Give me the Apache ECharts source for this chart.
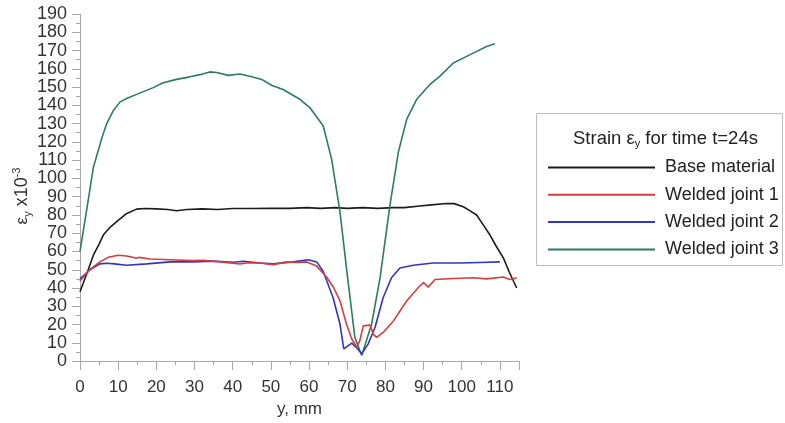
<!DOCTYPE html>
<html><head><meta charset="utf-8">
<script src="https://cdn.jsdelivr.net/npm/echarts@6/dist/echarts.min.js"></script>
<style>html,body{margin:0;padding:0;background:#fff}#c{width:785px;height:423px}</style>
</head><body><div id="c"></div>
<script>
const seriesNames = ['Base material', 'Welded joint 1', 'Welded joint 2', 'Welded joint 3'];
const baseX = [0, 2, 3.5, 5, 6.1, 8, 10, 12, 14.8, 17, 20, 23, 25.3, 28, 32, 36, 40, 45, 50, 55, 59.4, 63, 67, 70, 74, 78, 82, 85, 89, 92, 96, 98, 100.4, 102, 103.9, 105.5, 107.4, 109, 110.9, 112.5, 114.4];
const baseY = [38, 49, 58, 64, 69, 73.5, 77, 80.5, 83.2, 83.5, 83.3, 83, 82.3, 83, 83.3, 83, 83.5, 83.5, 83.7, 83.6, 84, 83.6, 84, 83.6, 84, 83.6, 84, 84, 84.9, 85.5, 86.3, 86.2, 84.5, 82.5, 80, 75, 69, 63, 56.5, 48.5, 40];
const joint1X = [0, 2.6, 5.2, 7.4, 10, 12.2, 13.5, 14.8, 15.5, 18.3, 23.6, 29.7, 32.3, 36.7, 41.9, 44, 47.1, 50.6, 54.1, 57, 59.4, 62, 64.6, 66.5, 68.1, 69.8, 71.2, 72.5, 73.3, 74.2, 76, 76.8, 77.7, 79.4, 82.1, 85.6, 89, 90, 91.2, 93, 97.8, 103, 106.5, 110.9, 112.6, 114.4];
const joint1Y = [43.8, 50.1, 54.3, 56.8, 57.9, 57.5, 57, 56.3, 56.8, 55.9, 55.5, 55, 55.2, 54.3, 53.2, 53.8, 53.7, 52.8, 54.3, 54, 54.3, 52, 46, 40, 33, 20.3, 12.1, 7.6, 11.2, 19.3, 19.7, 14.8, 13, 15.7, 22, 33, 41.1, 43, 40.5, 44.7, 45.2, 45.6, 45, 46, 44.7, 45.6];
const joint2X = [0, 2.6, 5.2, 7, 9, 12.2, 17.5, 23.6, 29.7, 34.9, 40.2, 42.8, 47.1, 50.6, 55.9, 59.8, 62, 63.7, 66.3, 68.1, 69.1, 71.2, 72.5, 73.8, 75.5, 77.3, 79.4, 81.6, 83.8, 87.3, 92.5, 99.5, 104.7, 110];
const joint2Y = [45, 50, 53.2, 53.6, 53.2, 52.5, 53.2, 54.3, 54.3, 54.7, 54.1, 54.7, 53.7, 53.2, 54.3, 55.5, 54.3, 49.2, 34.7, 20.3, 6.7, 9.8, 7.2, 4, 9.4, 18.5, 34.7, 45.6, 51, 52.5, 53.7, 53.7, 54, 54.3];
const joint3X = [0, 2, 3.5, 5.7, 7, 8.7, 10.5, 12.5, 14.8, 19.2, 21.8, 25.3, 28.8, 31.4, 34, 35.8, 38.8, 41.9, 45, 47.6, 50.2, 53.2, 57.6, 60.2, 62.4, 63.7, 65.9, 68.1, 69.8, 72, 73.8, 76.4, 78.6, 81.2, 83.4, 85.6, 88.2, 91.7, 94.3, 97.8, 100.5, 103, 106.5, 108.7];
const joint3Y = [60, 86, 106, 122, 130, 137, 141.9, 144, 146, 149.7, 152.4, 154.2, 155.6, 156.8, 158.3, 158, 156.4, 157.2, 155.6, 154.2, 151, 148.7, 143.3, 138.8, 132.5, 128.8, 110.7, 81.8, 51, 13, 3.1, 20.3, 45.6, 85.4, 114.4, 132.5, 143.3, 151.5, 156, 163.2, 166, 168.6, 172.2, 173.7];
const colors = ['#1c1c1c', '#d83c3c', '#3434c2', '#2d7d5c'];

const pairs = (xs, ys) => xs.map((x, i) => [x, ys[i]]);
const allData = [pairs(baseX, baseY), pairs(joint1X, joint1Y), pairs(joint2X, joint2Y), pairs(joint3X, joint3Y)];

const chart = echarts.init(document.getElementById('c'), null, {renderer: 'canvas'});
const FONT = 'Liberation Sans';
chart.setOption({
  animation: false,
  backgroundColor: '#fff',
  textStyle: {fontFamily: FONT},
  grid: {left: 80, right: 266, top: 14, bottom: 59, containLabel: false},
  xAxis: {
    type: 'value', min: 0, max: 115, interval: 10,
    name: 'y, mm', nameLocation: 'middle', nameGap: 39,
    nameTextStyle: {fontSize: 17, color: '#333', fontFamily: FONT},
    axisLine: {lineStyle: {color: '#a8a8a8', width: 1}},
    axisTick: {show: true, length: 9, lineStyle: {color: '#a8a8a8'}},
    minorTick: {show: true, splitNumber: 2, length: 4, lineStyle: {color: '#a8a8a8'}},
    axisLabel: {fontSize: 17, color: '#333', margin: 18, fontFamily: FONT,
      formatter: v => (v % 10 === 0 && v <= 110) ? String(v) : ''},
    splitLine: {show: false}
  },
  yAxis: {
    type: 'value', min: 0, max: 190, interval: 10,
    axisLine: {show: true, lineStyle: {color: '#a8a8a8', width: 1}},
    axisTick: {show: true, length: 8, lineStyle: {color: '#a8a8a8'}},
    minorTick: {show: true, splitNumber: 2, length: 4, lineStyle: {color: '#a8a8a8'}},
    axisLabel: {fontSize: 18, color: '#333', margin: 13, fontFamily: FONT},
    splitLine: {show: false}
  },
  legend: {
    orient: 'vertical', left: 548, top: 158.5, padding: 0,
    icon: 'rect', itemWidth: 107, itemHeight: 2, itemGap: 9.3,
    data: seriesNames,
    textStyle: {fontSize: 18, color: '#222', fontFamily: FONT, padding: [0, 0, 0, 5], lineHeight: 17},
    selectedMode: false
  },
  graphic: [
    {type: 'rect', shape: {x: 536.5, y: 113.5, width: 246, height: 152},
     style: {fill: 'none', stroke: '#bdbdbd', lineWidth: 1}, z: 1},
    {type: 'text', left: 573, top: 129, z: 2,
     style: {text: '{a|Strain ε}{b|y}{a| for time t=24s}', fontFamily: FONT,
       rich: {a: {fontSize: 18.5, fill: '#222', fontFamily: FONT, verticalAlign: 'middle', lineHeight: 22},
              b: {fontSize: 11, fill: '#222', fontFamily: FONT, verticalAlign: 'bottom', lineHeight: 22}}}},
    {type: 'text', x: 22, y: 196, rotation: Math.PI / 2, z: 2,
     style: {text: '{e|ε}{s|y}{t| x10}{p|-3}', fontFamily: FONT, align: 'center', verticalAlign: 'middle',
       rich: {
        e: {fontSize: 17, fill: '#333', fontFamily: FONT, verticalAlign: 'middle', lineHeight: 22},
        s: {fontSize: 11, fill: '#333', fontFamily: FONT, verticalAlign: 'bottom', lineHeight: 22},
        t: {fontSize: 18, fill: '#333', fontFamily: FONT, verticalAlign: 'middle', lineHeight: 22},
        p: {fontSize: 11, fill: '#333', fontFamily: FONT, verticalAlign: 'top', lineHeight: 22}
       }}}
  ],
  series: seriesNames.map((n, i) => ({
    name: n, type: 'line', data: allData[i], symbol: 'none', showSymbol: false,
    lineStyle: {color: colors[i], width: 1.6}, itemStyle: {color: colors[i]},
    z: i === 0 ? 5 : 4 - i + 5
  }))
});
</script></body></html>
